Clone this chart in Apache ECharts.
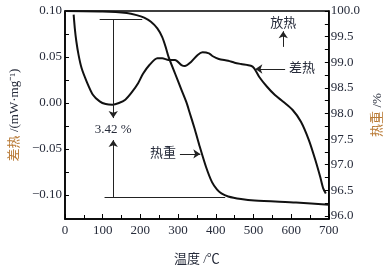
<!DOCTYPE html>
<html>
<head>
<meta charset="utf-8">
<script src="https://cdn.jsdelivr.net/npm/echarts@6/dist/echarts.min.js"></script>
<style>
  html, body { margin: 0; padding: 0; background: #fff; }
  #main { width: 392px; height: 274px; }
</style>
</head>
<body>
<div id="main"></div>
<script>
// temperature ticks (x axis)
const xTicks = [0, 100, 200, 300, 400, 500, 600, 700];
// left axis: DSC ticks
const dscTicks = [-0.1, -0.05, 0, 0.05, 0.1];
// right axis: TG ticks
const tgTicks = [96, 96.5, 97, 97.5, 98, 98.5, 99, 99.5, 100];

// 差热 (DSC) curve, mW/mg
const dscT = [23, 26, 30, 36, 44, 57, 74, 92, 108, 126, 143, 160, 177, 194, 207, 224, 245, 258, 275, 292, 309, 318, 335, 352, 365, 382, 391, 408, 433, 450, 467, 493, 502, 515, 536, 557, 579, 604, 626, 647, 664, 677, 685, 692];
const dscV = [0.096, 0.0815, 0.0674, 0.0523, 0.038, 0.0239, 0.009, 0.0018, -0.0011, -0.0018, 0.0, 0.0036, 0.0115, 0.0215, 0.0318, 0.0413, 0.0486, 0.0486, 0.0467, 0.0467, 0.0413, 0.0402, 0.0449, 0.0522, 0.0551, 0.054, 0.0511, 0.0478, 0.046, 0.0438, 0.0424, 0.0405, 0.0377, 0.0286, 0.0177, 0.0087, 0.0014, -0.0076, -0.0203, -0.0402, -0.0616, -0.0801, -0.0927, -0.0982];

// 热重 (TG) curve, %
const tgT = [0, 100, 164, 190, 210, 228, 245, 258, 267, 275, 292, 309, 322, 331, 344, 356, 374, 390, 403, 415, 433, 467, 503, 613, 700];
const tgV = [100, 99.99, 99.96, 99.92, 99.87, 99.79, 99.66, 99.49, 99.3, 99.1, 98.78, 98.46, 98.22, 98.01, 97.7, 97.39, 96.96, 96.66, 96.52, 96.44, 96.38, 96.33, 96.3, 96.26, 96.22];

// mass loss marker
const lossTop = 99.84, lossBottom = 96.37, lossLabel = '3.42 %';

const serif = '"Liberation Serif", "Times New Roman", "Noto Sans CJK SC", serif';
const txt = '#262b3a';
const orange = '#b97a35';

function ticks(arr, step) {
  const out = [];
  for (let v = arr[0]; v <= arr[arr.length - 1] + 1e-9; v += step) out.push(+v.toFixed(4));
  return out;
}

const chart = echarts.init(document.getElementById('main'));
const arrowLine = { color: '#222', width: 1, type: 'solid' };

const option = {
  animation: false,
  backgroundColor: '#fff',
  grid: { left: 61, right: 58, top: 11, bottom: 55, show: true, borderColor: '#000', borderWidth: 1.5 },
  xAxis: {
    type: 'value', min: 0, max: 700, interval: 100,
    name: '温度 /℃', nameLocation: 'middle', nameGap: 34,
    nameTextStyle: { color: txt, fontSize: 13, fontFamily: serif },
    axisLine: { onZero: false, lineStyle: { color: '#000', width: 1.5 } },
    axisTick: { inside: true, length: 5, lineStyle: { color: '#000' } },
    minorTick: { show: true, splitNumber: 2, length: 4, lineStyle: { color: '#000' } },
    splitLine: { show: false },
    axisLabel: { color: txt, fontSize: 13, fontFamily: serif, margin: 5 }
  },
  yAxis: [
    {
      type: 'value', min: -0.126, max: 0.1, position: 'left',
      name: '{a|差热} {b|/(mW·mg⁻¹)}', nameLocation: 'middle', nameGap: 38, nameRotate: 90,
      nameTextStyle: { rich: {
        a: { color: orange, fontSize: 13, fontFamily: serif },
        b: { color: txt, fontSize: 13, fontFamily: serif }
      } },
      axisLine: { show: true, onZero: false, lineStyle: { color: '#000', width: 1.5 } },
      axisTick: { inside: true, length: 4, customValues: ticks(dscTicks, 0.025), lineStyle: { color: '#000' } },
      splitLine: { show: false },
      axisLabel: {
        customValues: dscTicks, color: txt, fontSize: 13, fontFamily: serif, margin: 3,
        formatter: v => (v < 0 ? '−' : '') + Math.abs(v).toFixed(2)
      }
    },
    {
      type: 'value', min: 95.94, max: 100, position: 'right',
      name: '{a|热重} {b|/%}', nameLocation: 'middle', nameGap: 33, nameRotate: 90,
      nameTextStyle: { rich: {
        a: { color: orange, fontSize: 13, fontFamily: serif },
        b: { color: txt, fontSize: 13, fontFamily: serif }
      } },
      axisLine: { show: true, onZero: false, lineStyle: { color: '#000', width: 1.5 } },
      axisTick: { inside: true, length: 4, customValues: ticks(tgTicks, 0.25), lineStyle: { color: '#000' } },
      splitLine: { show: false },
      axisLabel: {
        customValues: tgTicks, color: txt, fontSize: 13, fontFamily: serif, margin: 2,
        formatter: v => v.toFixed(1)
      }
    }
  ],
  series: [
    {
      name: '差热', type: 'line', yAxisIndex: 0, smooth: 0.25, symbol: 'none',
      lineStyle: { color: '#111', width: 2 },
      data: dscT.map((t, i) => [t, dscV[i]]),
      markLine: {
        silent: true, symbol: ['none', 'arrow'], symbolSize: 7, lineStyle: arrowLine,
        label: { color: txt, fontSize: 13, fontFamily: serif },
        data: [
          [{ coord: [584, 0.037], label: { show: true, position: 'start', formatter: '差热', distance: 4 } }, { coord: [505, 0.037] }],
          [{ coord: [579, 0.061], label: { show: true, position: 'end', formatter: '放热', distance: 1 } }, { coord: [579, 0.078] }]
        ]
      }
    },
    {
      name: '热重', type: 'line', yAxisIndex: 1, smooth: 0.25, symbol: 'none',
      lineStyle: { color: '#111', width: 2 },
      data: tgT.map((t, i) => [t, tgV[i]]),
      markLine: {
        silent: true, symbol: ['none', 'arrow'], symbolSize: 7, lineStyle: arrowLine,
        label: { color: txt, fontSize: 13, fontFamily: serif },
        data: [
          [{ coord: [92, lossTop], symbol: 'none' }, { coord: [205, lossTop], symbol: 'none' }],
          [{ coord: [105, lossBottom], symbol: 'none' }, { coord: [425, lossBottom], symbol: 'none' }],
          [{ coord: [128, lossTop], label: { show: true, position: 'end', formatter: lossLabel, distance: 5 } }, { coord: [128, 97.91] }],
          [{ coord: [128, lossBottom], label: { show: false } }, { coord: [128, 97.48] }],
          [{ coord: [305, 97.21], label: { show: true, position: 'start', formatter: '热重', distance: 4 } }, { coord: [359, 97.21] }]
        ]
      }
    }
  ]
};
chart.setOption(option);
window.addEventListener('resize', chart.resize);
</script>
</body>
</html>
